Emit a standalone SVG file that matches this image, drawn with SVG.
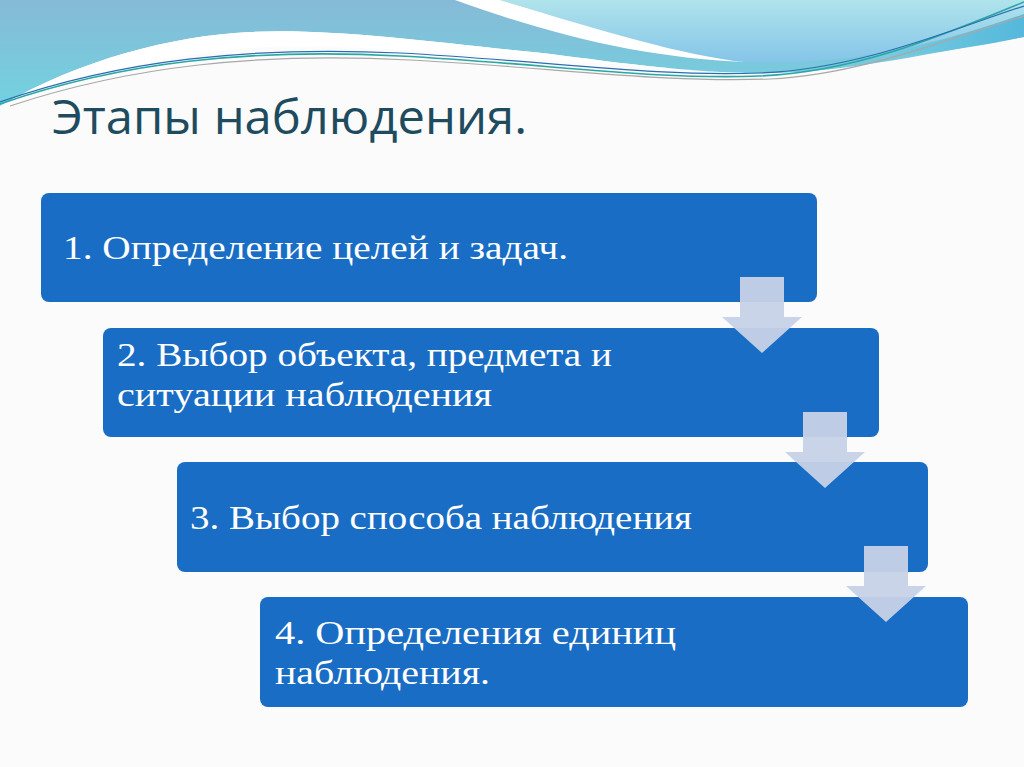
<svg xmlns="http://www.w3.org/2000/svg" width="1024" height="767" viewBox="0 0 1024 767">
<defs>
<linearGradient id="gLeft" x1="0" y1="0" x2="0" y2="1">
<stop offset="0" stop-color="#86bad6"/>
<stop offset="1" stop-color="#72d2e0"/>
</linearGradient>
<linearGradient id="gRight" x1="0" y1="0" x2="0" y2="1">
<stop offset="0" stop-color="#b0e4ec"/>
<stop offset="1" stop-color="#84c4e8"/>
</linearGradient>
<linearGradient id="gBand" x1="0" y1="0" x2="1" y2="0">
<stop offset="0" stop-color="#7ccfe0"/>
<stop offset="1" stop-color="#55b8dc"/>
</linearGradient>
<style>
.box{fill:#1a6dc4;}
.txt{font-family:"Liberation Serif","DejaVu Serif",serif;font-size:34px;fill:#ffffff;}
.arrow{fill:#c7d2e8;opacity:0.95;}
.title{font-family:"Open Sans","Liberation Sans",sans-serif;font-size:47px;fill:#1e4c5e;}
</style>
</defs>
<rect x="0" y="0" width="1024" height="767" fill="#fbfbfc"/>
<g id="background">
<path d="M0,0 L1024,0 L1024,37 C940,50 840,76 745,73 C650,70 580,56 512,50 C420,40 320,28 250,32 C170,36 80,60 0,106 Z" fill="url(#gLeft)"/>
<path d="M860,58 C930,45 980,30 1024,12 L1024,37 C960,50 900,58 860,58 Z" fill="url(#gBand)"/>
<path d="M500,0 L1024,0 L1024,14 C950,40 850,68 745,62 C680,55 600,30 500,0 Z" fill="url(#gRight)"/>
<path d="M455,0 L500,0 C600,30 680,55 745,62 C650,58 560,38 455,0 Z" fill="#ffffff"/>
<path d="M0,106 C80,60 170,36 250,32 C320,28 420,40 512,50 C580,56 650,70 745,73 C700,72 600,62 512,57 C420,50 320,44 250,48 C150,55 60,85 0,106 Z" fill="#ffffff"/>
<path d="M0,104 C120,62 250,48 400,56 C550,64 650,80 760,76 C860,72 950,32 1024,2" fill="none" stroke="#2aa7a2" stroke-width="1.6"/>
<path d="M0,102 C120,60 250,46 400,53 C550,61 650,77 760,73 C860,69 950,30 1024,6" fill="none" stroke="#2a6db2" stroke-width="1.2"/>
<path d="M10,106 C130,66 260,52 410,60 C560,68 660,83 770,79 C860,75 950,38 1024,16" fill="none" stroke="#a8a8a8" stroke-width="1.2"/>
</g>
<text class="title" x="52" y="134" textLength="475" lengthAdjust="spacingAndGlyphs">Этапы наблюдения.</text>
<g id="node1">
<rect class="box" x="41" y="193" width="776" height="109" rx="8"/>
<text class="txt" x="63" y="259" textLength="505" lengthAdjust="spacingAndGlyphs">1. Определение целей и задач.</text>
</g>
<g id="node2">
<rect class="box" x="103" y="328" width="776" height="109" rx="8"/>
<text class="txt" x="117" y="366" textLength="495" lengthAdjust="spacingAndGlyphs">2. Выбор объекта, предмета и</text>
<text class="txt" x="117" y="406" textLength="375" lengthAdjust="spacingAndGlyphs">ситуации наблюдения</text>
</g>
<g id="node3">
<rect class="box" x="177" y="462" width="751" height="110" rx="8"/>
<text class="txt" x="190" y="529" textLength="502" lengthAdjust="spacingAndGlyphs">3. Выбор способа наблюдения</text>
</g>
<g id="node4">
<rect class="box" x="260" y="597" width="708" height="110" rx="8"/>
<text class="txt" x="275" y="644" textLength="401" lengthAdjust="spacingAndGlyphs">4. Определения единиц</text>
<text class="txt" x="275" y="684" textLength="215" lengthAdjust="spacingAndGlyphs">наблюдения.</text>
</g>
<g id="connectors">
<path class="arrow" d="M740,277 H784 V317 H802 L762,353 L722,317 H740 Z"/>
<path class="arrow" d="M803,412 H847 V452 H865 L825,488 L785,452 H803 Z"/>
<path class="arrow" d="M864,546 H908 V586 H926 L886,622 L846,586 H864 Z"/>
</g>
</svg>
